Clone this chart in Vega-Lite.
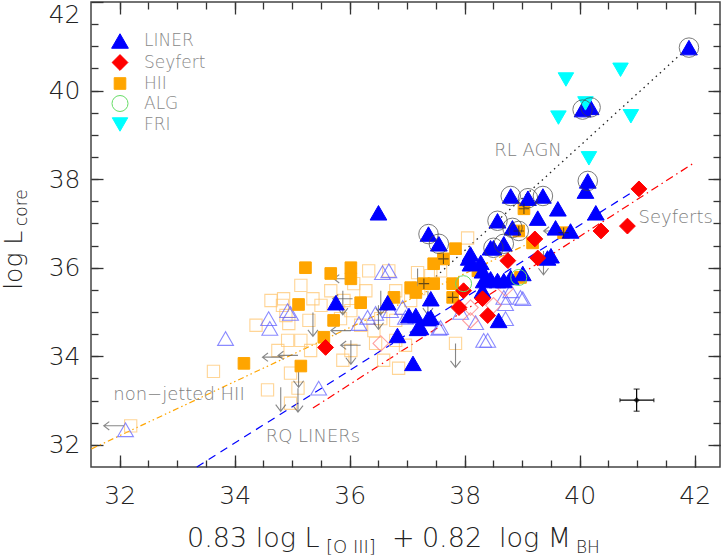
{
"$schema": "https://vega.github.io/schema/vega-lite/v6.json",
"autosize": "none",
"padding": {"left": 91, "top": 2, "right": 3, "bottom": 90},
"width": 629,
"height": 465,
"background": "white",
"config": {
  "view": {"stroke": "#444", "strokeWidth": 1.5},
  "axis": {"domain": false, "grid": false, "tickColor": "#333", "tickWidth": 1.3, "labelFont": "DejaVu Sans", "labelFontWeight": 200, "labelColor": "#222", "labelFontSize": 25},
  "legend": {"orient": "none", "legendX": 20, "legendY": 30, "labelFont": "DejaVu Sans", "labelFontWeight": 200, "labelFontSize": 17, "labelColor": "#888", "rowPadding": 1, "labelOffset": 15, "symbolStrokeWidth": 1}
},
"datasets": {
  "pts": [
    {"x":34.16,"y":33.84,"t":"HII","open":false},{"x":35.11,"y":35.17,"t":"HII","open":false},{"x":35.23,"y":36.00,"t":"HII","open":false},{"x":35.15,"y":33.78,"t":"HII","open":false},{"x":35.67,"y":35.87,"t":"HII","open":false},{"x":36.02,"y":36.00,"t":"HII","open":false},{"x":36.02,"y":35.75,"t":"HII","open":false},{"x":36.19,"y":35.21,"t":"HII","open":false},{"x":36.77,"y":35.33,"t":"HII","open":false},{"x":35.72,"y":34.81,"t":"HII","open":false},{"x":35.55,"y":34.43,"t":"HII","open":false},{"x":37.84,"y":36.43,"t":"HII","open":false},{"x":38.23,"y":35.93,"t":"HII","open":false},{"x":38.97,"y":35.78,"t":"HII","open":false},{"x":39.03,"y":37.33,"t":"HII","open":false},{"x":38.94,"y":36.83,"t":"HII","open":false},{"x":39.72,"y":36.79,"t":"HII","open":false},{"x":39.18,"y":36.56,"t":"HII","open":false},{"x":37.63,"y":36.20,"t":"HII","open":false},{"x":37.46,"y":36.09,"t":"HII","open":false},{"x":37.29,"y":35.64,"t":"HII","open":false},{"x":37.46,"y":35.64,"t":"HII","open":false},{"x":37.79,"y":35.64,"t":"HII","open":false},{"x":37.79,"y":35.33,"t":"HII","open":false},{"x":37.06,"y":35.55,"t":"HII","open":false},{"x":37.15,"y":35.44,"t":"HII","open":false},
    {"x":32.19,"y":32.43,"t":"HII","open":true},{"x":33.63,"y":33.66,"t":"HII","open":true},{"x":34.85,"y":35.30,"t":"HII","open":true},{"x":35.36,"y":35.30,"t":"HII","open":true},{"x":34.94,"y":34.74,"t":"HII","open":true},{"x":34.92,"y":34.36,"t":"HII","open":true},{"x":34.75,"y":34.13,"t":"HII","open":true},{"x":34.97,"y":33.62,"t":"HII","open":true},{"x":34.57,"y":33.24,"t":"HII","open":true},{"x":35.10,"y":33.28,"t":"HII","open":true},{"x":34.97,"y":32.94,"t":"HII","open":true},{"x":35.15,"y":34.36,"t":"HII","open":true},{"x":35.32,"y":34.13,"t":"HII","open":true},{"x":35.29,"y":34.81,"t":"HII","open":true},{"x":34.83,"y":35.15,"t":"HII","open":true},{"x":36.33,"y":35.93,"t":"HII","open":true},{"x":36.68,"y":35.93,"t":"HII","open":true},{"x":37.18,"y":35.89,"t":"HII","open":true},{"x":36.07,"y":35.64,"t":"HII","open":true},{"x":35.90,"y":35.26,"t":"HII","open":true},{"x":35.67,"y":35.48,"t":"HII","open":true},{"x":35.84,"y":34.85,"t":"HII","open":true},{"x":36.19,"y":34.70,"t":"HII","open":true},{"x":36.42,"y":34.58,"t":"HII","open":true},{"x":36.45,"y":34.29,"t":"HII","open":true},{"x":36.80,"y":34.36,"t":"HII","open":true},{"x":36.85,"y":33.73,"t":"HII","open":true},{"x":37.20,"y":35.53,"t":"HII","open":true},{"x":37.06,"y":35.26,"t":"HII","open":true},{"x":37.84,"y":34.29,"t":"HII","open":true},{"x":38.05,"y":36.67,"t":"HII","open":true},{"x":35.50,"y":35.15,"t":"HII","open":true},{"x":36.02,"y":35.03,"t":"HII","open":true},{"x":36.28,"y":35.48,"t":"HII","open":true},{"x":36.54,"y":34.85,"t":"HII","open":true},{"x":36.80,"y":34.81,"t":"HII","open":true},{"x":36.97,"y":34.25,"t":"HII","open":true},{"x":34.63,"y":35.26,"t":"HII","open":true},{"x":34.37,"y":34.70,"t":"HII","open":true},{"x":35.15,"y":35.60,"t":"HII","open":true},{"x":34.89,"y":34.92,"t":"HII","open":true},{"x":36.02,"y":34.13,"t":"HII","open":true},{"x":35.88,"y":33.91,"t":"HII","open":true},{"x":36.59,"y":33.91,"t":"HII","open":true},{"x":36.80,"y":35.48,"t":"HII","open":true},{"x":37.58,"y":35.93,"t":"HII","open":true},{"x":37.41,"y":35.82,"t":"HII","open":true},
    {"x":41.90,"y":40.97,"t":"LINER","open":false},{"x":40.05,"y":39.57,"t":"LINER","open":false},{"x":40.19,"y":39.62,"t":"LINER","open":false},{"x":40.14,"y":37.96,"t":"LINER","open":false},{"x":40.10,"y":37.73,"t":"LINER","open":false},{"x":39.62,"y":37.33,"t":"LINER","open":false},{"x":40.28,"y":37.24,"t":"LINER","open":false},{"x":38.80,"y":37.62,"t":"LINER","open":false},{"x":39.10,"y":37.57,"t":"LINER","open":false},{"x":39.36,"y":37.62,"t":"LINER","open":false},{"x":39.27,"y":37.12,"t":"LINER","open":false},{"x":38.57,"y":37.06,"t":"LINER","open":false},{"x":38.83,"y":36.90,"t":"LINER","open":false},{"x":39.58,"y":36.90,"t":"LINER","open":false},{"x":39.84,"y":36.83,"t":"LINER","open":false},{"x":38.50,"y":36.45,"t":"LINER","open":false},{"x":38.68,"y":36.54,"t":"LINER","open":false},{"x":38.10,"y":36.31,"t":"LINER","open":false},{"x":37.37,"y":36.76,"t":"LINER","open":false},{"x":37.55,"y":36.54,"t":"LINER","open":false},{"x":36.50,"y":37.24,"t":"LINER","open":false},{"x":39.50,"y":36.27,"t":"LINER","open":false},{"x":39.44,"y":36.22,"t":"LINER","open":false},{"x":38.07,"y":36.22,"t":"LINER","open":false},{"x":38.33,"y":35.71,"t":"LINER","open":false},{"x":38.45,"y":35.75,"t":"LINER","open":false},{"x":38.57,"y":35.71,"t":"LINER","open":false},{"x":38.68,"y":35.71,"t":"LINER","open":false},{"x":38.80,"y":35.78,"t":"LINER","open":false},{"x":38.28,"y":36.12,"t":"LINER","open":false},{"x":38.45,"y":36.45,"t":"LINER","open":false},{"x":38.31,"y":35.48,"t":"LINER","open":false},{"x":37.41,"y":35.30,"t":"LINER","open":false},{"x":37.41,"y":34.88,"t":"LINER","open":false},{"x":38.59,"y":34.81,"t":"LINER","open":false},{"x":37.23,"y":34.65,"t":"LINER","open":false},{"x":35.76,"y":35.21,"t":"LINER","open":false},{"x":36.66,"y":35.21,"t":"LINER","open":false},{"x":37.03,"y":34.92,"t":"LINER","open":false},{"x":37.15,"y":34.92,"t":"LINER","open":false},{"x":37.18,"y":34.63,"t":"LINER","open":false},{"x":37.36,"y":34.85,"t":"LINER","open":false},{"x":36.83,"y":34.47,"t":"LINER","open":false},{"x":37.10,"y":33.84,"t":"LINER","open":false},{"x":39.01,"y":35.87,"t":"LINER","open":false},{"x":38.10,"y":36.09,"t":"LINER","open":false},{"x":38.31,"y":35.93,"t":"LINER","open":false},
    {"x":32.10,"y":32.34,"t":"LINER","open":true},{"x":33.84,"y":34.40,"t":"LINER","open":true},{"x":34.59,"y":34.85,"t":"LINER","open":true},{"x":34.61,"y":34.63,"t":"LINER","open":true},{"x":34.92,"y":35.03,"t":"LINER","open":true},{"x":35.46,"y":33.28,"t":"LINER","open":true},{"x":36.16,"y":34.74,"t":"LINER","open":true},{"x":36.45,"y":34.97,"t":"LINER","open":true},{"x":36.71,"y":35.03,"t":"LINER","open":true},{"x":36.92,"y":35.10,"t":"LINER","open":true},{"x":36.57,"y":35.89,"t":"LINER","open":true},{"x":36.68,"y":35.93,"t":"LINER","open":true},{"x":36.31,"y":34.88,"t":"LINER","open":true},{"x":36.97,"y":34.88,"t":"LINER","open":true},{"x":37.55,"y":34.63,"t":"LINER","open":true},{"x":38.33,"y":34.36,"t":"LINER","open":true},{"x":34.97,"y":34.97,"t":"LINER","open":true},{"x":37.58,"y":34.65,"t":"LINER","open":true},{"x":38.40,"y":34.36,"t":"LINER","open":true},{"x":38.97,"y":35.33,"t":"LINER","open":true},{"x":38.68,"y":35.33,"t":"LINER","open":true},{"x":38.80,"y":35.48,"t":"LINER","open":true},{"x":38.71,"y":35.19,"t":"LINER","open":true},{"x":39.01,"y":35.30,"t":"LINER","open":true},{"x":37.93,"y":34.99,"t":"LINER","open":true},{"x":38.19,"y":34.76,"t":"LINER","open":true},{"x":38.71,"y":34.85,"t":"LINER","open":true},
    {"x":41.03,"y":37.78,"t":"Seyfert","open":false},{"x":40.37,"y":36.83,"t":"Seyfert","open":false},{"x":40.83,"y":36.94,"t":"Seyfert","open":false},{"x":39.27,"y":36.22,"t":"Seyfert","open":false},{"x":39.22,"y":36.65,"t":"Seyfert","open":false},{"x":38.75,"y":36.16,"t":"Seyfert","open":false},{"x":37.98,"y":35.48,"t":"Seyfert","open":false},{"x":38.31,"y":35.30,"t":"Seyfert","open":false},{"x":37.90,"y":35.10,"t":"Seyfert","open":false},{"x":38.40,"y":34.92,"t":"Seyfert","open":false},{"x":35.58,"y":34.20,"t":"Seyfert","open":false},
    {"x":38.50,"y":35.15,"t":"Seyfert","open":true},{"x":38.10,"y":34.81,"t":"Seyfert","open":true},{"x":38.10,"y":35.10,"t":"Seyfert","open":true},{"x":36.54,"y":34.29,"t":"Seyfert","open":true},{"x":38.71,"y":35.53,"t":"Seyfert","open":true},
    {"x":37.98,"y":35.64,"t":"ALG","open":false},{"x":38.94,"y":35.78,"t":"ALG","open":false},
    {"x":39.76,"y":40.25,"t":"FRI","open":false},{"x":40.71,"y":40.47,"t":"FRI","open":false},{"x":39.63,"y":39.39,"t":"FRI","open":false},{"x":40.89,"y":39.42,"t":"FRI","open":false},{"x":40.16,"y":38.47,"t":"FRI","open":false},{"x":40.10,"y":39.71,"t":"FRI","open":false}
  ],
  "rl": [
    {"x":41.90,"y":40.97},{"x":40.05,"y":39.57},{"x":40.19,"y":39.62},{"x":40.14,"y":37.96},{"x":38.80,"y":37.62},{"x":39.10,"y":37.57},{"x":39.36,"y":37.62},{"x":38.57,"y":37.06},{"x":38.83,"y":36.90},{"x":38.50,"y":36.45},{"x":38.68,"y":36.54},{"x":37.37,"y":36.76},{"x":37.55,"y":36.54},{"x":38.94,"y":36.83}
  ],
  "cross": [
    {"x":39.03,"y":37.33},{"x":38.94,"y":36.83},{"x":39.72,"y":36.79},{"x":37.63,"y":36.20},{"x":37.29,"y":35.64},{"x":37.79,"y":35.33}
  ],
  "limits": [
    {"x":32.07,"y":32.43,"dir":"left"},{"x":34.83,"y":33.98,"dir":"left"},{"x":35.10,"y":34.02,"dir":"left"},{"x":36.07,"y":35.75,"dir":"left"},{"x":36.05,"y":35.30,"dir":"left"},{"x":36.02,"y":34.58,"dir":"left"},{"x":36.19,"y":34.25,"dir":"left"},{"x":39.72,"y":36.83,"dir":"left"},
    {"x":37.18,"y":35.98,"dir":"down"},{"x":36.50,"y":35.15,"dir":"down"},{"x":36.02,"y":34.36,"dir":"down"},{"x":35.88,"y":35.48,"dir":"down"},{"x":35.36,"y":34.99,"dir":"down"},{"x":35.11,"y":33.84,"dir":"down"},{"x":34.80,"y":33.30,"dir":"down"},{"x":35.10,"y":33.28,"dir":"down"},{"x":37.84,"y":34.29,"dir":"down"},{"x":39.37,"y":36.38,"dir":"down"},{"x":37.36,"y":35.48,"dir":"down"},{"x":36.54,"y":35.48,"dir":"down"}
  ],
  "fits": [
    {"fit":"RL","x":37.5,"y":35.8},{"fit":"RL","x":41.9,"y":40.99},
    {"fit":"RQ","x":33.34,"y":31.5},{"fit":"RQ","x":40.94,"y":37.73},
    {"fit":"Sey","x":35.36,"y":32.83},{"fit":"Sey","x":41.98,"y":38.36},
    {"fit":"HII","x":31.51,"y":31.91},{"fit":"HII","x":39.3,"y":36.66}
  ],
  "err": [{"x":40.99,"y":33.01,"xlo":40.70,"xhi":41.29,"ylo":32.76,"yhi":33.26}]
},
"layer": [
  {"data": {"name": "fits"}, "transform": [{"filter": "datum.fit==='RL'"}], "mark": {"type": "line", "color": "#222", "strokeWidth": 1.3, "strokeDash": [1.5, 4]},
   "encoding": {"x": {"field": "x", "type": "quantitative", "axis": null}, "y": {"field": "y", "type": "quantitative", "axis": null}}},
  {"data": {"name": "fits"}, "transform": [{"filter": "datum.fit==='RQ'"}], "mark": {"type": "line", "color": "#0000ff", "strokeWidth": 1.2, "strokeDash": [8, 6]},
   "encoding": {"x": {"field": "x", "type": "quantitative", "axis": null}, "y": {"field": "y", "type": "quantitative", "axis": null}}},
  {"data": {"name": "fits"}, "transform": [{"filter": "datum.fit==='Sey'"}], "mark": {"type": "line", "color": "#ff0000", "strokeWidth": 1.2, "strokeDash": [8, 4, 1.5, 4]},
   "encoding": {"x": {"field": "x", "type": "quantitative", "axis": null}, "y": {"field": "y", "type": "quantitative", "axis": null}}},
  {"data": {"name": "fits"}, "transform": [{"filter": "datum.fit==='HII'"}], "mark": {"type": "line", "color": "#ffa500", "strokeWidth": 1.2, "strokeDash": [6, 3, 1.5, 3, 1.5, 3]},
   "encoding": {"x": {"field": "x", "type": "quantitative", "axis": null}, "y": {"field": "y", "type": "quantitative", "axis": null}}},
  {"data": {"name": "pts"}, "transform": [{"filter": "datum.t==='HII' && datum.open"}],
   "mark": {"type": "point", "shape": "square", "filled": false, "stroke": "#ffc46a", "strokeWidth": 1.1, "size": 150},
   "encoding": {
     "x": {"field": "x", "type": "quantitative", "scale": {"domain": [31.5, 42.44], "nice": false, "zero": false},
           "axis": {"orient": "bottom", "values": [32, 34, 36, 38, 40, 42], "tickSize": -12, "labelPadding": 28, "title": null, "labelFlush": false}},
     "y": {"field": "y", "type": "quantitative", "scale": {"domain": [31.5, 42], "nice": false, "zero": false},
           "axis": {"orient": "left", "values": [32, 34, 36, 38, 40, 42], "tickSize": -12, "labelPadding": 23, "title": null, "labelFlush": true}}
   }},
  {"data": {"name": "pts"}, "transform": [{"filter": "datum.t==='LINER' && datum.open"}],
   "mark": {"type": "point", "shape": "triangle-up", "filled": false, "stroke": "#5a5aff", "strokeWidth": 1.1, "size": 250},
   "encoding": {
     "x": {"field": "x", "type": "quantitative", "scale": {"domain": [31.5, 42.44], "nice": false, "zero": false},
           "axis": {"orient": "bottom", "values": [32, 32.5, 33, 33.5, 34, 34.5, 35, 35.5, 36, 36.5, 37, 37.5, 38, 38.5, 39, 39.5, 40, 40.5, 41, 41.5, 42], "tickSize": -7, "labels": false, "title": null}},
     "y": {"field": "y", "type": "quantitative", "scale": {"domain": [31.5, 42], "nice": false, "zero": false},
           "axis": {"orient": "left", "values": [32, 32.5, 33, 33.5, 34, 34.5, 35, 35.5, 36, 36.5, 37, 37.5, 38, 38.5, 39, 39.5, 40, 40.5, 41, 41.5], "tickSize": -7, "labels": false, "title": null}}
   }},
  {"data": {"name": "pts"}, "transform": [{"filter": "datum.t==='Seyfert' && datum.open"}],
   "mark": {"type": "point", "shape": "diamond", "filled": false, "stroke": "#ff7a7a", "strokeWidth": 1.1, "size": 240},
   "encoding": {
     "x": {"field": "x", "type": "quantitative", "scale": {"domain": [31.5, 42.44], "nice": false, "zero": false},
           "axis": {"orient": "top", "values": [32, 34, 36, 38, 40, 42], "tickSize": -12, "labels": false, "title": null}},
     "y": {"field": "y", "type": "quantitative", "scale": {"domain": [31.5, 42], "nice": false, "zero": false},
           "axis": {"orient": "right", "values": [32, 34, 36, 38, 40], "tickSize": -12, "labels": false, "title": null}}
   }},
  {"data": {"name": "limits"}, "transform": [{"filter": "datum.dir==='down'"}],
   "mark": {"type": "point", "shape": "M0,0L0,2M-0.42,1.45L0,2L0.42,1.45", "filled": false, "stroke": "#555", "strokeWidth": 1.1, "size": 576},
   "encoding": {"x": {"field": "x", "type": "quantitative", "axis": null}, "y": {"field": "y", "type": "quantitative", "axis": null}}},
  {"data": {"name": "limits"}, "transform": [{"filter": "datum.dir==='left'"}],
   "mark": {"type": "point", "shape": "M0,0L-2,0M-1.45,-0.42L-2,0L-1.45,0.42", "filled": false, "stroke": "#555", "strokeWidth": 1.1, "size": 400},
   "encoding": {"x": {"field": "x", "type": "quantitative", "axis": null}, "y": {"field": "y", "type": "quantitative", "axis": null}}},
  {"data": {"name": "pts"}, "transform": [{"filter": "!datum.open"}],
   "mark": {"type": "point", "filled": true, "strokeWidth": 1, "opacity": 1},
   "encoding": {
     "x": {"field": "x", "type": "quantitative", "scale": {"domain": [31.5, 42.44], "nice": false, "zero": false},
           "axis": {"orient": "top", "values": [32, 32.5, 33, 33.5, 34, 34.5, 35, 35.5, 36, 36.5, 37, 37.5, 38, 38.5, 39, 39.5, 40, 40.5, 41, 41.5, 42], "tickSize": -7, "labels": false, "title": null}},
     "y": {"field": "y", "type": "quantitative", "scale": {"domain": [31.5, 42], "nice": false, "zero": false},
           "axis": {"orient": "right", "values": [32, 32.5, 33, 33.5, 34, 34.5, 35, 35.5, 36, 36.5, 37, 37.5, 38, 38.5, 39, 39.5, 40, 40.5, 41, 41.5], "tickSize": -7, "labels": false, "title": null}},
     "fill": {"field": "t", "type": "nominal", "title": null, "scale": {"domain": ["LINER", "Seyfert", "HII", "ALG", "FRI"], "range": ["#0000ff", "#ff0000", "#ffa500", "transparent", "#00ffff"]}},
     "stroke": {"field": "t", "type": "nominal", "title": null, "scale": {"domain": ["LINER", "Seyfert", "HII", "ALG", "FRI"], "range": ["#0000ff", "#ff0000", "#ffa500", "#66dd66", "#00ffff"]}},
     "shape": {"field": "t", "type": "nominal", "title": null, "scale": {"domain": ["LINER", "Seyfert", "HII", "ALG", "FRI"], "range": ["triangle-up", "diamond", "square", "circle", "triangle-down"]}},
     "size": {"field": "t", "type": "nominal", "title": null, "scale": {"type": "ordinal", "domain": ["LINER", "Seyfert", "HII", "ALG", "FRI"], "range": [280, 250, 135, 256, 240]}}
   }},
  {"data": {"name": "rl"}, "mark": {"type": "point", "shape": "circle", "filled": false, "stroke": "#444", "strokeWidth": 1, "size": 380},
   "encoding": {"x": {"field": "x", "type": "quantitative", "axis": null}, "y": {"field": "y", "type": "quantitative", "axis": null}}},
  {"data": {"name": "cross"}, "mark": {"type": "point", "shape": "M-1,0L1,0M0,-1L0,1", "filled": false, "stroke": "#222", "strokeWidth": 1.1, "size": 110},
   "encoding": {"x": {"field": "x", "type": "quantitative", "axis": null}, "y": {"field": "y", "type": "quantitative", "axis": null}}},
  {"data": {"name": "err"}, "mark": {"type": "rule", "color": "#000", "strokeWidth": 1.2},
   "encoding": {"x": {"field": "xlo", "type": "quantitative", "axis": null}, "x2": {"field": "xhi"}, "y": {"field": "y", "type": "quantitative", "axis": null}}},
  {"data": {"name": "err"}, "mark": {"type": "rule", "color": "#000", "strokeWidth": 1.2},
   "encoding": {"x": {"field": "x", "type": "quantitative", "axis": null}, "y": {"field": "ylo", "type": "quantitative", "axis": null}, "y2": {"field": "yhi"}}},
  {"data": {"name": "err"}, "mark": {"type": "point", "shape": "M0,-1L0,1", "filled": false, "stroke": "#000", "strokeWidth": 1.2, "size": 16},
   "encoding": {"x": {"field": "xlo", "type": "quantitative", "axis": null}, "y": {"field": "y", "type": "quantitative", "axis": null}}},
  {"data": {"name": "err"}, "mark": {"type": "point", "shape": "M0,-1L0,1", "filled": false, "stroke": "#000", "strokeWidth": 1.2, "size": 16},
   "encoding": {"x": {"field": "xhi", "type": "quantitative", "axis": null}, "y": {"field": "y", "type": "quantitative", "axis": null}}},
  {"data": {"name": "err"}, "mark": {"type": "point", "shape": "M-1,0L1,0", "filled": false, "stroke": "#000", "strokeWidth": 1.2, "size": 36},
   "encoding": {"x": {"field": "x", "type": "quantitative", "axis": null}, "y": {"field": "ylo", "type": "quantitative", "axis": null}}},
  {"data": {"name": "err"}, "mark": {"type": "point", "shape": "M-1,0L1,0", "filled": false, "stroke": "#000", "strokeWidth": 1.2, "size": 36},
   "encoding": {"x": {"field": "x", "type": "quantitative", "axis": null}, "y": {"field": "yhi", "type": "quantitative", "axis": null}}},
  {"data": {"name": "err"}, "mark": {"type": "point", "shape": "diamond", "filled": true, "color": "#000", "size": 40},
   "encoding": {"x": {"field": "x", "type": "quantitative", "axis": null}, "y": {"field": "y", "type": "quantitative", "axis": null}}},
  {"data": {"values": [{"label": "RL AGN"}]}, "mark": {"type": "text", "font": "DejaVu Sans", "fontWeight": 200, "fontSize": 18, "color": "#808080"}, "encoding": {"text": {"field": "label", "type": "nominal"}, "x": {"datum": 39.10, "type": "quantitative", "axis": null}, "y": {"datum": 38.63, "type": "quantitative", "axis": null}}},
  {"data": {"values": [{"label": "Seyferts"}]}, "mark": {"type": "text", "font": "DejaVu Sans", "fontWeight": 200, "fontSize": 18, "color": "#808080"}, "encoding": {"text": {"field": "label", "type": "nominal"}, "x": {"datum": 41.67, "type": "quantitative", "axis": null}, "y": {"datum": 37.12, "type": "quantitative", "axis": null}}},
  {"data": {"values": [{"label": "non−jetted HII"}]}, "mark": {"type": "text", "font": "DejaVu Sans", "fontWeight": 200, "fontSize": 18, "color": "#808080"}, "encoding": {"text": {"field": "label", "type": "nominal"}, "x": {"datum": 33.03, "type": "quantitative", "axis": null}, "y": {"datum": 33.12, "type": "quantitative", "axis": null}}},
  {"data": {"values": [{"label": "RQ LINERs"}]}, "mark": {"type": "text", "font": "DejaVu Sans", "fontWeight": 200, "fontSize": 18, "color": "#808080"}, "encoding": {"text": {"field": "label", "type": "nominal"}, "x": {"datum": 35.36, "type": "quantitative", "axis": null}, "y": {"datum": 32.18, "type": "quantitative", "axis": null}}},
  {"data": {"values": [{"label": "0.83 log L"}]}, "mark": {"type": "text", "align": "left", "baseline": "alphabetic", "font": "DejaVu Sans", "fontWeight": 200, "fontSize": 27, "color": "#222"}, "encoding": {"text": {"field": "label", "type": "nominal"}, "x": {"datum": 33.17, "type": "quantitative", "axis": null}, "y": {"datum": 29.694, "type": "quantitative", "axis": null}}},
  {"data": {"values": [{"label": "[O III]"}]}, "mark": {"type": "text", "align": "left", "baseline": "alphabetic", "font": "DejaVu Sans", "fontWeight": 200, "fontSize": 18, "color": "#222"}, "encoding": {"text": {"field": "label", "type": "nominal"}, "x": {"datum": 35.587, "type": "quantitative", "axis": null}, "y": {"datum": 29.558, "type": "quantitative", "axis": null}}},
  {"data": {"values": [{"label": "+"}]}, "mark": {"type": "text", "align": "left", "baseline": "alphabetic", "font": "DejaVu Sans", "fontWeight": 200, "fontSize": 27, "color": "#222"}, "encoding": {"text": {"field": "label", "type": "nominal"}, "x": {"datum": 36.735, "type": "quantitative", "axis": null}, "y": {"datum": 29.694, "type": "quantitative", "axis": null}}},
  {"data": {"values": [{"label": "0.82"}]}, "mark": {"type": "text", "align": "left", "baseline": "alphabetic", "font": "DejaVu Sans", "fontWeight": 200, "fontSize": 27, "color": "#222"}, "encoding": {"text": {"field": "label", "type": "nominal"}, "x": {"datum": 37.256, "type": "quantitative", "axis": null}, "y": {"datum": 29.694, "type": "quantitative", "axis": null}}},
  {"data": {"values": [{"label": "log M"}]}, "mark": {"type": "text", "align": "left", "baseline": "alphabetic", "font": "DejaVu Sans", "fontWeight": 200, "fontSize": 27, "color": "#222"}, "encoding": {"text": {"field": "label", "type": "nominal"}, "x": {"datum": 38.596, "type": "quantitative", "axis": null}, "y": {"datum": 29.694, "type": "quantitative", "axis": null}}},
  {"data": {"values": [{"label": "BH"}]}, "mark": {"type": "text", "align": "left", "baseline": "alphabetic", "font": "DejaVu Sans", "fontWeight": 200, "fontSize": 17, "color": "#222"}, "encoding": {"text": {"field": "label", "type": "nominal"}, "x": {"datum": 39.935, "type": "quantitative", "axis": null}, "y": {"datum": 29.558, "type": "quantitative", "axis": null}}},
  {"data": {"values": [{"label": "log L"}]}, "mark": {"type": "text", "align": "left", "baseline": "alphabetic", "angle": 270, "font": "DejaVu Sans", "fontWeight": 200, "fontSize": 25, "color": "#222"}, "encoding": {"text": {"field": "label", "type": "nominal"}, "x": {"datum": 30.30, "type": "quantitative", "axis": null}, "y": {"datum": 35.50, "type": "quantitative", "axis": null}}},
  {"data": {"values": [{"label": "core"}]}, "mark": {"type": "text", "align": "left", "baseline": "alphabetic", "angle": 270, "font": "DejaVu Sans", "fontWeight": 200, "fontSize": 17, "color": "#222"}, "encoding": {"text": {"field": "label", "type": "nominal"}, "x": {"datum": 30.387, "type": "quantitative", "axis": null}, "y": {"datum": 36.94, "type": "quantitative", "axis": null}}}
],
"resolve": {"axis": {"x": "independent", "y": "independent"}}
}
